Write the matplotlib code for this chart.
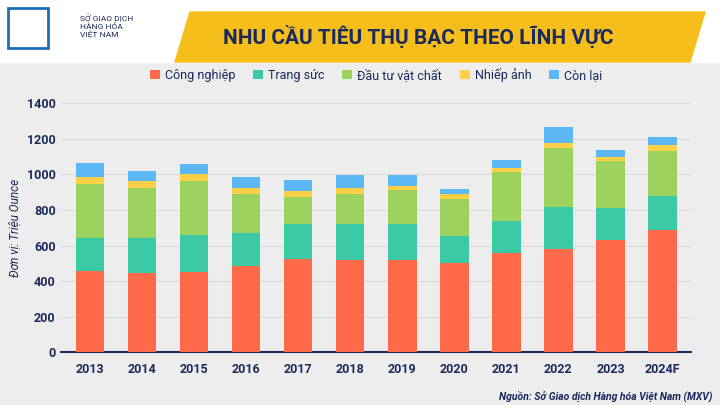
import numpy as np
import matplotlib.pyplot as plt
from matplotlib.patches import Polygon, Rectangle

years = ["2013", "2014", "2015", "2016", "2017", "2018", "2019", "2020", "2021", "2022", "2023", "2024F"]
cong_nghiep = [456, 447, 450, 484, 522, 518, 518, 505, 556, 582, 629, 688]
trang_suc = [188, 194, 208, 189, 198, 204, 202, 151, 183, 236, 185, 192]
dau_tu = [302, 282, 307, 216, 152, 167, 190, 205, 273, 331, 260, 254]
nhiep_anh = [39, 40, 39, 34, 36, 32, 27, 28, 26, 29, 26, 29]
con_lai = [80, 55, 57, 63, 59, 74, 62, 29, 45, 88, 38, 49]

series = [cong_nghiep, trang_suc, dau_tu, nhiep_anh, con_lai]
names = ["Công nghiệp", "Trang sức", "Đầu tư vật chất", "Nhiếp ảnh", "Còn lại"]
colors = ["#FF6B4A", "#3CC9A6", "#9CD35E", "#FDD046", "#5BB8F5"]
navy = "#1B2A5C"

plt.rcParams['font.family'] = ['Roboto', 'DejaVu Sans']
fig = plt.figure(figsize=(7.2, 4.05), dpi=100)
fig.patch.set_facecolor("#EDEDED")

# header
hdr = fig.add_axes([0, 0, 1, 1], zorder=-1)
hdr.set_xlim(0, 720); hdr.set_ylim(405, 0); hdr.axis("off")
hdr.add_patch(Rectangle((0, 0), 720, 62, color="white"))
hdr.add_patch(Polygon([[190, 12], [705, 12], [690, 62], [175, 62]], color="#F6BE1A"))
hdr.add_patch(Rectangle((8, 8), 40, 40, fill=False, ec="#1E6FB5", lw=2))
hdr.text(80, 14, "SỞ GIAO DỊCH\nHÀNG HÓA\nVIỆT NAM", color=navy, fontsize=6, va="top", linespacing=1.1)
hdr.text(418, 37, "NHU CẦU TIÊU THỤ BẠC THEO LĨNH VỰC", color=navy, fontsize=15,
         fontweight="bold", ha="center", va="center")
hdr.text(712, 396, "Nguồn: Sở Giao dịch Hàng hóa Việt Nam (MXV)", color=navy, fontsize=7.5,
         fontweight="bold", style="italic", ha="right", va="center")

ax = fig.add_axes([0.085, 0.13, 0.875, 0.615])
ax.set_facecolor("none")
x = np.arange(len(years))
bottom = np.zeros(len(years))
for vals, name, c in zip(series, names, colors):
    ax.bar(x, vals, 0.55, bottom=bottom, color=c, label=name, zorder=3)
    bottom += np.array(vals)

ax.set_ylim(0, 1400)
ax.set_yticks(range(0, 1401, 200))
ax.set_xlim(-0.55, len(years) - 0.45)
ax.set_xticks(x)
ax.set_xticklabels(years)
ax.grid(axis="y", color="#DADADA", lw=0.8, zorder=0)
for s in ["top", "right", "left"]:
    ax.spines[s].set_visible(False)
ax.spines["bottom"].set_color(navy)
ax.spines["bottom"].set_linewidth(1.5)
ax.tick_params(length=0, labelsize=9, colors=navy, pad=8)
ax.tick_params(axis="y", pad=4)
for t in ax.get_xticklabels() + ax.get_yticklabels():
    t.set_fontweight("bold")
ax.set_ylabel("Đơn vị: Triệu Ounce", style="italic", color=navy, fontsize=8.5, labelpad=4)
ax.legend(loc="lower center", bbox_to_anchor=(0.5, 1.04), ncol=5, frameon=False,
          fontsize=9, handlelength=0.8, handleheight=0.8, columnspacing=1.4,
          labelcolor=navy, handletextpad=0.4)

fig.savefig("out.png", dpi=100, facecolor=fig.get_facecolor())
